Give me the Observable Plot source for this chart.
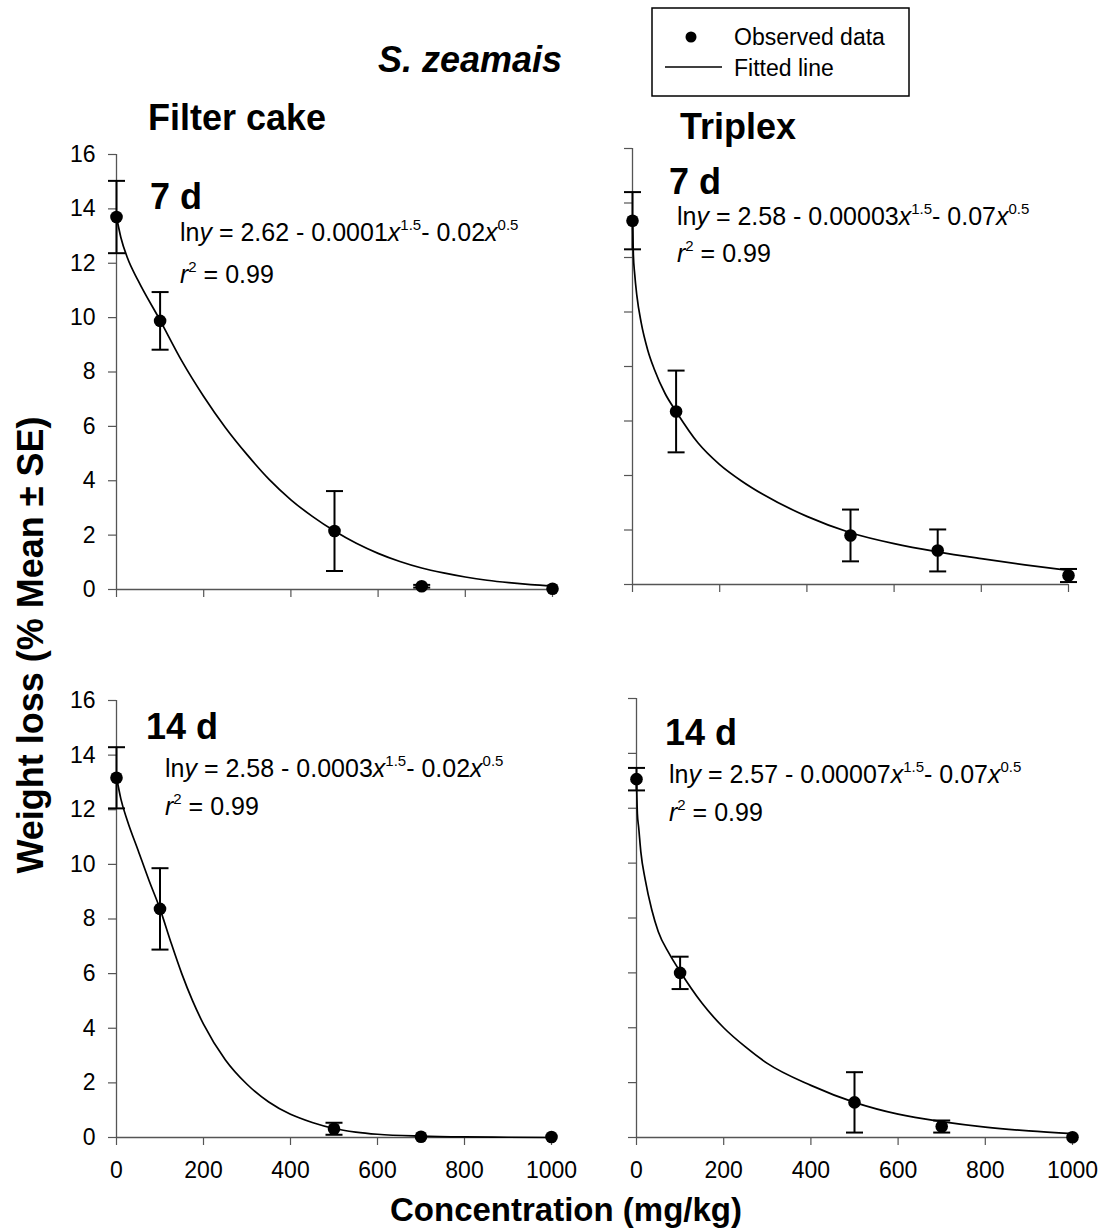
<!DOCTYPE html>
<html><head><meta charset="utf-8">
<script src="https://cdn.jsdelivr.net/npm/d3@7"></script>
<script src="https://cdn.jsdelivr.net/npm/@observablehq/plot@0.6"></script>
<style>
html,body{margin:0;padding:0;background:#fff;}
#root{position:relative;width:1102px;height:1230px;overflow:hidden;font-family:"Liberation Sans",Arial,sans-serif;}
#root svg{position:absolute;}
</style></head><body><div id="root"></div>
<script>
// ---------- data ----------
const concentrations = [0, 100, 500, 700, 1000];
const xTicks = [0, 200, 400, 600, 800, 1000];
const yTicks = [0, 2, 4, 6, 8, 10, 12, 14, 16];

const filterCake7Mean = [13.7, 9.88, 2.15, 0.12, 0.03];
const filterCake7SE   = [1.33, 1.06, 1.47, 0.05, 0];
const triplex7Mean    = [13.35, 6.35, 1.8, 1.25, 0.33];
const triplex7SE      = [1.05, 1.5, 0.95, 0.77, 0.24];
const filterCake14Mean = [13.17, 8.37, 0.32, 0.03, 0.02];
const filterCake14SE   = [1.12, 1.49, 0.22, 0, 0];
const triplex14Mean    = [13.06, 6.0, 1.28, 0.4, 0.01];
const triplex14SE      = [0.41, 0.59, 1.1, 0.22, 0];

const filterCake7FitX = [0,10,25,50,100,150,200,250,300,350,400,450,500,550,600,650,700,750,800,850,900,950,1000];
const filterCake7FitY = [13.7,12.95,12.2,11.35,9.9,8.4,7.1,5.95,4.95,4.05,3.3,2.68,2.15,1.7,1.33,1.03,0.79,0.61,0.46,0.34,0.25,0.18,0.13];
const triplex7FitX = [0,2,5,10,20,35,50,75,100,150,200,250,300,400,500,600,700,800,900,1000];
const triplex7FitY = [13.35,12.1,11.4,10.6,9.6,8.6,7.9,7.0,6.35,5.2,4.4,3.8,3.3,2.5,1.9,1.5,1.2,0.95,0.72,0.52];
const filterCake14FitX = [0,10,25,50,75,100,125,150,175,200,250,300,350,400,450,500,550,600,700,800,900,1000];
const filterCake14FitY = [13.2,12.4,11.6,10.5,9.4,8.37,7.15,6.0,5.0,4.15,2.85,1.95,1.3,0.85,0.55,0.33,0.2,0.12,0.05,0.02,0.01,0.0];
const triplex14FitX = [0,2,5,10,20,35,50,75,100,150,200,250,300,400,500,600,700,800,900,1000];
const triplex14FitY = [13.1,11.8,11.3,10.4,9.4,8.3,7.5,6.7,6.05,4.9,4.0,3.3,2.7,1.9,1.28,0.85,0.58,0.38,0.24,0.14];

const panelTitles = ["Filter cake", "Triplex"];
const dayLabels = ["7 d", "14 d"];
const equations = [
  ["2.62 - 0.0001", "1.5", "- 0.02", "0.5"],
  ["2.58 - 0.00003", "1.5", "- 0.07", "0.5"],
  ["2.58 - 0.0003", "1.5", "- 0.02", "0.5"],
  ["2.57 - 0.00007", "1.5", "- 0.07", "0.5"]
];
const r2Values = ["0.99", "0.99", "0.99", "0.99"];

// ---------- layout ----------
const FONT = '"Liberation Sans", Arial, sans-serif';
const root = document.getElementById("root");
const mL = 70, mR = 30, mT = 20, mB = 50;

const capSymbol = {draw(ctx, size) { const r = Math.sqrt(size / Math.PI); ctx.moveTo(-r, 0); ctx.lineTo(r, 0); }};

function table(means, ses) {
  return concentrations.map((x, i) => ({x, mean: means[i], se: ses[i]}));
}
function fit(xs, ys) { return xs.map((x, i) => ({x, y: ys[i]})); }

const panels = [
  {data: table(filterCake7Mean, filterCake7SE), fit: fit(filterCake7FitX, filterCake7FitY), x0: 116, x1: 552, yTop: 154, y0: 589, yLabels: true, xLabels: false},
  {data: table(triplex7Mean, triplex7SE), fit: fit(triplex7FitX, triplex7FitY), x0: 632, x1: 1068, yTop: 148, y0: 584, yLabels: false, xLabels: false},
  {data: table(filterCake14Mean, filterCake14SE), fit: fit(filterCake14FitX, filterCake14FitY), x0: 116, x1: 551, yTop: 700, y0: 1137, yLabels: true, xLabels: true},
  {data: table(triplex14Mean, triplex14SE), fit: fit(triplex14FitX, triplex14FitY), x0: 636, x1: 1072, yTop: 698, y0: 1137, yLabels: false, xLabels: true}
];

for (const p of panels) {
  const w = (p.x1 - p.x0) + mL + mR;
  const h = (p.y0 - p.yTop) + mT + mB;
  const withSE = p.data.filter(d => d.se > 0);
  const caps = withSE.flatMap(d => [{x: d.x, y: d.mean - d.se}, {x: d.x, y: d.mean + d.se}]);
  const svg = Plot.plot({
    width: w, height: h,
    marginLeft: mL, marginRight: mR, marginTop: mT, marginBottom: mB,
    style: {background: "transparent", color: "#000", fontSize: "23px", fontFamily: FONT, overflow: "visible"},
    x: {domain: [0, 1000]},
    y: {domain: [0, 16]},
    marks: [
      Plot.axisY(yTicks, {tickSize: 8, tickPadding: 13, stroke: "#555", strokeWidth: 1.2, label: null,
        tickFormat: p.yLabels ? (d => String(d)) : (() => "")}),
      Plot.axisX(xTicks, {tickSize: 8, tickPadding: 16, stroke: "#555", strokeWidth: 1.2, label: null,
        tickFormat: p.xLabels ? (d => String(d)) : (() => "")}),
      Plot.ruleX([0], {stroke: "#555", strokeWidth: 1.3}),
      Plot.ruleY([0], {stroke: "#555", strokeWidth: 1.3}),
      Plot.line(p.fit, {x: "x", y: "y", curve: "monotone-x", stroke: "#000", strokeWidth: 1.7}),
      Plot.ruleX(withSE, {x: "x", y1: d => d.mean - d.se, y2: d => d.mean + d.se, stroke: "#000", strokeWidth: 2}),
      Plot.dot(caps, {x: "x", y: "y", symbol: capSymbol, r: 8.5, stroke: "#000", strokeWidth: 2, fill: "none"}),
      Plot.dot(p.data, {x: "x", y: "mean", r: 6.3, fill: "#000", stroke: null})
    ]
  });
  svg.style.left = (p.x0 - mL) + "px";
  svg.style.top = (p.yTop - mT) + "px";
  root.appendChild(svg);
}

// ---------- text overlay ----------
const ov = d3.select(root).append("svg")
  .attr("width", 1102).attr("height", 1230)
  .style("left", "0px").style("top", "0px").style("pointer-events", "none")
  .attr("font-family", FONT);

ov.append("text").attr("x", 378).attr("y", 72).attr("font-size", 36).attr("font-weight", "bold")
  .attr("font-style", "italic").text("S. zeamais");
ov.append("text").attr("x", 148).attr("y", 130).attr("font-size", 36).attr("font-weight", "bold").text(panelTitles[0]);
ov.append("text").attr("x", 680).attr("y", 139).attr("font-size", 36).attr("font-weight", "bold").text(panelTitles[1]);

const annot = [
  {day: dayLabels[0], dx: 150, dy: 209, ex: 180, ey: 241, ry: 283},
  {day: dayLabels[0], dx: 669, dy: 194, ex: 677, ey: 225, ry: 262},
  {day: dayLabels[1], dx: 146, dy: 739, ex: 165, ey: 777, ry: 815},
  {day: dayLabels[1], dx: 665, dy: 745, ex: 669, ey: 783, ry: 821}
];
annot.forEach((a, i) => {
  ov.append("text").attr("x", a.dx).attr("y", a.dy).attr("font-size", 36).attr("font-weight", "bold").text(a.day);
  const eq = equations[i];
  const t = ov.append("text").attr("x", a.ex).attr("y", a.ey).attr("font-size", 25);
  t.append("tspan").text("ln");
  t.append("tspan").attr("font-style", "italic").text("y");
  t.append("tspan").text(" = " + eq[0]);
  t.append("tspan").attr("font-style", "italic").text("x");
  t.append("tspan").attr("font-size", 15).attr("dy", -11).text(eq[1]);
  t.append("tspan").attr("dy", 11).text(eq[2]);
  t.append("tspan").attr("font-style", "italic").text("x");
  t.append("tspan").attr("font-size", 15).attr("dy", -11).text(eq[3]);
  const r = ov.append("text").attr("x", a.ex).attr("y", a.ry).attr("font-size", 25);
  r.append("tspan").attr("font-style", "italic").text("r");
  r.append("tspan").attr("font-size", 15).attr("dy", -11).text("2");
  r.append("tspan").attr("dy", 11).text(" = " + r2Values[i]);
});

ov.append("text").attr("transform", "translate(43,645) rotate(-90)").attr("text-anchor", "middle")
  .attr("font-size", 36).attr("font-weight", "bold").text("Weight loss (% Mean ± SE)");
ov.append("text").attr("x", 566).attr("y", 1221).attr("text-anchor", "middle")
  .attr("font-size", 33).attr("font-weight", "bold").text("Concentration (mg/kg)");

// legend
ov.append("rect").attr("x", 652).attr("y", 8).attr("width", 257).attr("height", 88)
  .attr("fill", "none").attr("stroke", "#000").attr("stroke-width", 1.5);
ov.append("circle").attr("cx", 691).attr("cy", 37).attr("r", 5.5).attr("fill", "#000");
ov.append("line").attr("x1", 665).attr("x2", 722).attr("y1", 67).attr("y2", 67).attr("stroke", "#000").attr("stroke-width", 1.7);
ov.append("text").attr("x", 734).attr("y", 45).attr("font-size", 23).text("Observed data");
ov.append("text").attr("x", 734).attr("y", 76).attr("font-size", 23).text("Fitted line");
</script></body></html>
